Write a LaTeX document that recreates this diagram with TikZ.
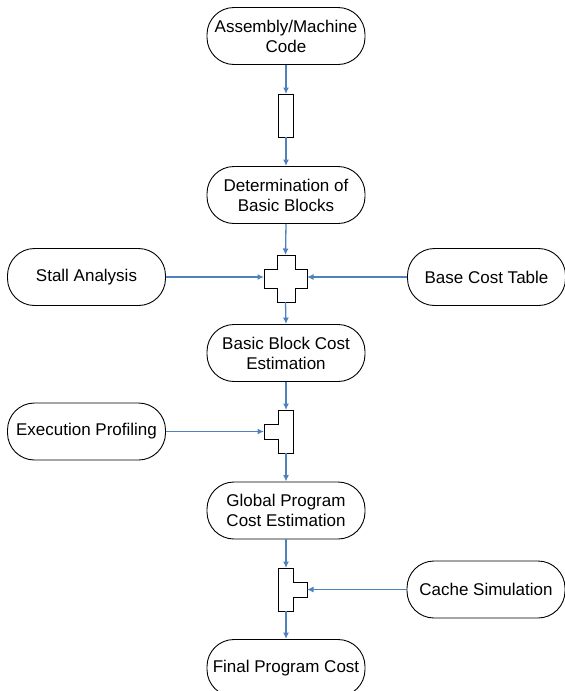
\documentclass[tikz,border=0pt]{standalone}
\usepackage{fontspec}
\setmainfont{Liberation Sans}
\usetikzlibrary{arrows.meta}
\definecolor{arrowblue}{RGB}{79,129,189}
\tikzset{
  proc/.style={draw=black, line width=0.9pt, rounded corners=27pt, minimum width=158pt, minimum height=57pt, align=center, inner sep=0pt, font=\fontsize{17}{20}\selectfont},
  hub/.style={draw=none, inner sep=0pt, outer sep=0pt},
  shapeline/.style={draw=black, line width=0.9pt},
  flow/.style={draw=arrowblue, line width=1.3pt, -{Latex[length=6.5pt,width=6pt]}}
}
\begin{document}
\begin{tikzpicture}[x=1pt,y=-1pt]
\useasboundingbox (0,0) rectangle (565,691);
\clip (0,0) rectangle (565,691);
% process nodes
\node[proc] (asm) at (286,36) {Assembly/Machine\\Code};
\node[proc] (det) at (286,195) {Determination of\\Basic Blocks};
\node[proc] (stall) at (86.5,277) {Stall Analysis};
\node[proc] (base) at (486.5,277) {Base Cost Table};
\node[proc] (bbc) at (286,353) {Basic Block Cost\\Estimation};
\node[proc] (exec) at (86.5,431.5) {Execution Profiling};
\node[proc] (gpc) at (286,510.5) {Global Program\\Cost Estimation};
\node[proc] (cache) at (486,589.5) {Cache Simulation};
\node[proc] (final) at (286,668) {Final Program Cost};
% junction shapes
\node[hub, draw=black, line width=0.9pt, minimum width=15pt, minimum height=43pt] (blk) at (286,115.5) {};
\node[hub, minimum width=43pt, minimum height=47pt] (cross) at (285.5,278.5) {};
\draw[shapeline] (277,255) -- (295,255) -- (295,269) -- (307,269) -- (307,288) -- (295,288) -- (295,302) -- (277,302) -- (277,288) -- (264,288) -- (264,269) -- (277,269) -- cycle;
\node[hub, minimum width=15pt, minimum height=43pt] (tone) at (286,431.5) {};
\coordinate (tonein) at (264,431.5);
\draw[shapeline] (278.5,410) -- (293.5,410) -- (293.5,453) -- (278.5,453) -- (278.5,439) -- (264,439) -- (264,424) -- (278.5,424) -- cycle;
\node[hub, minimum width=15pt, minimum height=43pt] (ttwo) at (286,589.5) {};
\coordinate (ttwoin) at (307,589.5);
\draw[shapeline] (278.5,568) -- (293.5,568) -- (293.5,582) -- (307,582) -- (307,597) -- (293.5,597) -- (293.5,611) -- (278.5,611) -- cycle;
% connectors
\draw[flow] (asm.south) -- (blk.north);
\draw[flow] (blk.south) -- (det.north);
\draw[flow] (det.south) -- (cross.north);
\draw[flow] (stall.east) -- (stall.east -| cross.west);
\draw[flow] (base.west) -- (base.west -| cross.east);
\draw[flow] (cross.south) -- (bbc.north);
\draw[flow] (bbc.south) -- (tone.north);
\draw[flow] (exec.east) -- (tonein);
\draw[flow] (tone.south) -- (gpc.north);
\draw[flow] (gpc.south) -- (ttwo.north);
\draw[flow] (cache.west) -- (ttwoin);
\draw[flow] (ttwo.south) -- (final.north);
\end{tikzpicture}
\end{document}
